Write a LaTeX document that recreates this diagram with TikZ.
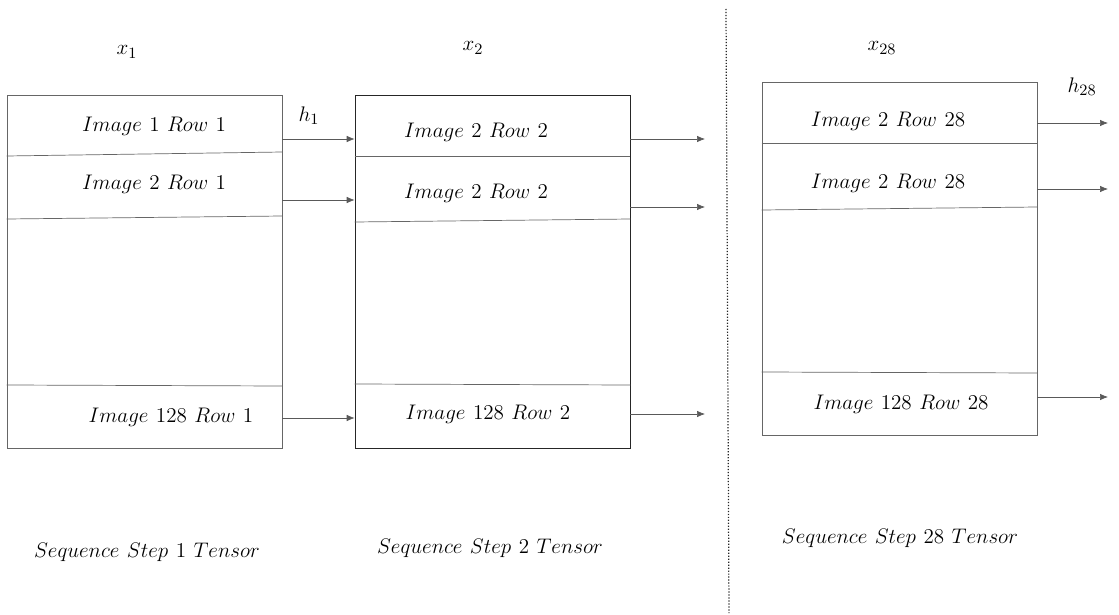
\documentclass[tikz,border=0pt]{standalone}
\usetikzlibrary{arrows.meta,positioning}
\begin{document}
\begin{tikzpicture}[
  x=0.02cm, y=-0.02cm,
  font=\fontsize{13}{15}\selectfont,
  tensor/.style={draw=black!60, minimum width=5.5cm, minimum height=7.06cm, inner sep=0pt},
  row/.style={inner sep=1pt},
  sep/.style={draw=black!60},
  ar/.style={-{Latex[length=1.6mm, width=1.3mm]}, draw=black!65},
  lbl/.style={inner sep=1pt}
]
\useasboundingbox (0,0) rectangle (1119,615);
% tensors
\node[tensor] (t1) at (144.5,271.5) {};
\node[tensor, draw=black!85] (t2) at (492.5,271.5) {};
\node[tensor] (t3) at (899.5,258.5) {};
% row separators
\draw[sep] (t1.west |- 0,156) -- (t1.east |- 0,152);
\draw[sep] (t1.west |- 0,219) -- (t1.east |- 0,216);
\draw[sep] (t1.west |- 0,385) -- (t1.east |- 0,386);
\draw[sep] (t2.west |- 0,156) -- (t2.east |- 0,156);
\draw[sep] (t2.west |- 0,222) -- (t2.east |- 0,219);
\draw[sep] (t2.west |- 0,384) -- (t2.east |- 0,385);
\draw[sep] (t3.west |- 0,143) -- (t3.east |- 0,143);
\draw[sep] (t3.west |- 0,210) -- (t3.east |- 0,207);
\draw[sep] (t3.west |- 0,372) -- (t3.east |- 0,373);
% rows
\node[row] (r11) at (154,126) {$Image~1~Row~1$};
\node[row] (r12) at (154,184) {$Image~2~Row~1$};
\node[row] (r13) at (171,417) {$Image~128~Row~1$};
\node[row] (r21) at (476,132) {$Image~2~Row~2$};
\node[row] (r22) at (476,193) {$Image~2~Row~2$};
\node[row] (r23) at (488,414) {$Image~128~Row~2$};
\node[row] (r31) at (888,121) {$Image~2~Row~28$};
\node[row] (r32) at (888,183) {$Image~2~Row~28$};
\node[row] (r33) at (901,404) {$Image~128~Row~28$};
% inputs and hidden states
\node[lbl] (x1) at (127,52) {$x_1$};
\node[lbl] (x2) at (473,48) {$x_2$};
\node[lbl] (x28) at (882,48) {$x_{28}$};
\node[lbl] (h1) at (309,116) {$h_1$};
\node[lbl] (h28) at (1082,87) {$h_{28}$};
% captions
\node[lbl] (c1) at (147,552) {$Sequence~Step~1~Tensor$};
\node[lbl] (c2) at (490,548) {$Sequence~Step~2~Tensor$};
\node[lbl] (c28) at (900,538) {$Sequence~Step~28~Tensor$};
% arrows
\coordinate (o2) at (705,0);
\coordinate (o3) at (1108,0);
\foreach \y in {139,200,418}
  \draw[ar] (t1.east |- 0,\y) -- (t2.west |- 0,\y);
\foreach \y in {139,207,414}
  \draw[ar] (t2.east |- 0,\y) -- (o2 |- 0,\y);
\foreach \y in {123,189,397}
  \draw[ar] (t3.east |- 0,\y) -- (o3 |- 0,\y);
% divider
\coordinate (dtop) at (726,9);
\coordinate (dbot) at (729,613);
\draw[densely dotted, line width=0.7pt, black!85] (dtop) -- (dbot);
\end{tikzpicture}
\end{document}
